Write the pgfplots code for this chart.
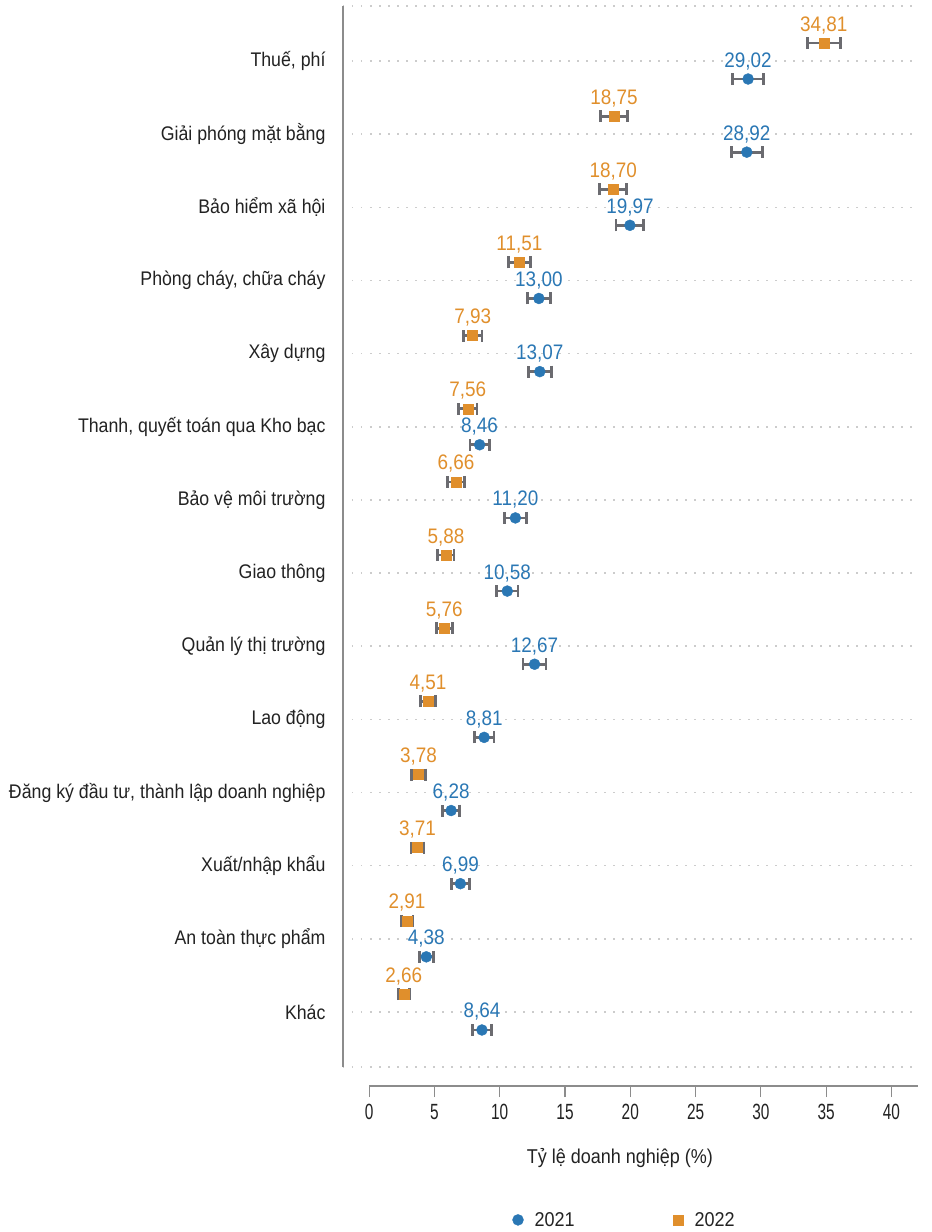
\documentclass[border=0pt]{standalone}
\usepackage{pgfplots}
\pgfplotsset{compat=1.18}
\usepackage{pgfplotstable}
\usepackage{fontspec}
\setmainfont[FakeStretch=0.9]{Liberation Sans}
\newfontfamily\tickfont[FakeStretch=0.7]{Liberation Sans}
\definecolor{cblue}{HTML}{2A77B4}
\definecolor{corange}{HTML}{E08F2C}
\definecolor{cerr}{HTML}{6B6B70}
\definecolor{cgrid}{HTML}{CCCCCC}
\definecolor{caxis}{HTML}{8C8C8C}
\definecolor{ctext}{HTML}{222222}

% 2021
\pgfplotstableread{
y x e
13.754 29.02 1.20
12.754 28.92 1.20
11.754 19.97 1.06
10.754 13.00 0.89
9.754 13.07 0.89
8.754 8.46 0.74
7.754 11.20 0.84
6.754 10.58 0.82
5.754 12.67 0.88
4.754 8.81 0.75
3.754 6.28 0.64
2.754 6.99 0.68
1.754 4.38 0.54
0.754 8.64 0.74
}\dataA

% 2022
\pgfplotstableread{
y x e
14.246 34.81 1.26
13.246 18.75 1.03
12.246 18.70 1.03
11.246 11.51 0.85
10.246 7.93 0.72
9.246 7.56 0.70
8.246 6.66 0.66
7.246 5.88 0.62
6.246 5.76 0.62
5.246 4.51 0.55
4.246 3.78 0.51
3.246 3.71 0.50
2.246 2.91 0.45
1.246 2.66 0.43
}\dataB

\begin{document}
\begin{tikzpicture}
\useasboundingbox (0,0) rectangle (932pt,1232pt);
\begin{axis}[
  scale only axis, width=574.6pt, height=1080pt,
  at={(343pt,146pt)}, anchor=south west,
  xmin=-2, xmax=42, ymin=-0.0116, ymax=14.752,
  axis lines*=left, axis line style={draw=none},
  clip=false,
  /pgf/number format/assume math mode=true,
  xtick={0,5,...,40},
  ytick={1,...,14},
  yticklabels={Khác, An toàn thực phẩm, Xuất/nhập khẩu, {Đăng ký đầu tư, thành lập doanh nghiệp}, Lao động, Quản lý thị trường, Giao thông, Bảo vệ môi trường, {Thanh, quyết toán qua Kho bạc}, Xây dựng, {Phòng cháy, chữa cháy}, Bảo hiểm xã hội, Giải phóng mặt bằng, {Thuế, phí}},
  tick align=outside, major tick length=11pt,
  xtick style={draw=caxis, line width=1.2pt},
  ytick style={draw=none},
  xticklabel style={font=\tickfont\fontsize{22}{22}\selectfont, text=ctext, yshift=-4pt},
  yticklabel style={font=\fontsize{19.7}{23}\selectfont, text=ctext, xshift=-3pt},
  ymajorgrids,
  grid style={cgrid, line width=1.5pt, dash pattern=on 1.5pt off 7.5pt},
  extra y ticks={0.248,14.752}, extra y tick labels={},
  extra y tick style={grid=major},
  xlabel={Tỷ lệ doanh nghiệp (\%)},
  xlabel style={at={(axis description cs:0.482,-0.0665)}, anchor=center, font=\fontsize{20}{24}\selectfont, text=ctext},
  legend style={at={(0.490,-0.124)}, anchor=center, draw=none, fill=none, legend columns=2, font=\fontsize{20}{24}\selectfont, text=ctext, /tikz/every even column/.append style={column sep=97pt}},
  point meta=x,
  nodes near coords={\pgfmathprintnumber[fixed,fixed zerofill,precision=2,use comma,assume math mode=true]{\pgfplotspointmeta}},
]
\addplot[only marks, mark=*, mark size=5.5pt, mark options={draw=cblue, fill=cblue},
  every node near coord/.append style={anchor=base, yshift=12pt, inner sep=0pt, font=\fontsize{21}{21}\selectfont, text=cblue},
  error bars/.cd, x dir=both, x explicit, error mark=|,
  error bar style={cerr, line width=2.8pt},
  error mark options={cerr, line width=2.8pt, mark size=6pt}]
  table[x=x, y=y, x error=e]{\dataA};
\addlegendentry{\hspace{9pt}2021}
\addplot[only marks, mark=square*, mark size=5pt, mark options={draw=corange, fill=corange},
  every node near coord/.append style={anchor=base, yshift=12pt, inner sep=0pt, font=\fontsize{21}{21}\selectfont, text=corange},
  error bars/.cd, x dir=both, x explicit, error mark=|,
  error bar style={cerr, line width=2.8pt},
  error mark options={cerr, line width=2.8pt, mark size=6pt}]
  table[x=x, y=y, x error=e]{\dataB};
\addlegendentry{\hspace{9pt}2022}
\draw[caxis, line width=1.8pt] (axis cs:-2,0.248) -- (axis cs:-2,14.752);
\draw[caxis, line width=1.2pt] (axis cs:0,-0.0116) -- (axis cs:42,-0.0116);
\end{axis}
\end{tikzpicture}
\end{document}
